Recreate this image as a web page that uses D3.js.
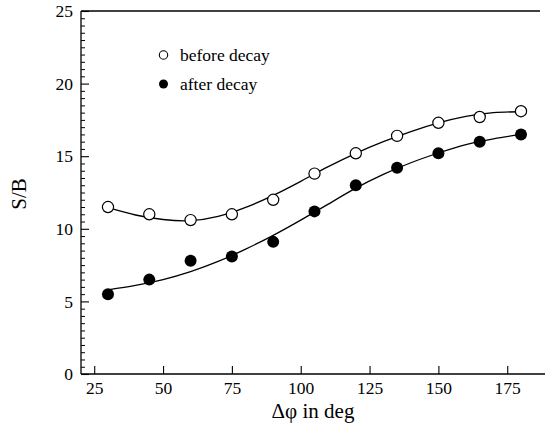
<!DOCTYPE html>
<html>
<head>
<meta charset="utf-8">
<script src="https://cdn.jsdelivr.net/npm/d3@7"></script>
<style>
  html, body { margin: 0; padding: 0; background: #fff; }
  svg { display: block; }
  text { font-family: "Liberation Serif", "DejaVu Serif", "Times New Roman", serif; fill: #000; }
</style>
</head>
<body>
<svg id="chart" width="545" height="423"></svg>
<script>
// ---- data ----
const angles = [30, 45, 60, 75, 90, 105, 120, 135, 150, 165, 180];
const beforeDecay = [11.5, 11.0, 10.6, 11.0, 12.0, 13.8, 15.2, 16.4, 17.3, 17.7, 18.1];
const afterDecay = [5.5, 6.5, 7.8, 8.1, 9.1, 11.2, 13.0, 14.2, 15.2, 16.0, 16.5];

// fitted curves
const fitAngles = [30, 40, 50, 60, 70, 80, 90, 100, 110, 120, 130, 140, 150, 160, 170, 180];
const beforeFit = [11.45, 10.95, 10.64, 10.56, 10.85, 11.47, 12.3, 13.27, 14.28, 15.2, 16.0, 16.7, 17.3, 17.75, 18.0, 18.06];
const afterFit = [5.8, 6.1, 6.5, 7.05, 7.75, 8.6, 9.55, 10.6, 11.7, 12.8, 13.75, 14.55, 15.22, 15.8, 16.2, 16.5];

const xTicks = [25, 50, 75, 100, 125, 150, 175];
const yTicks = [0, 5, 10, 15, 20, 25];
const seriesNames = ["before decay", "after decay"];

(function () {
// ---- layout ----
const svg = d3.select("#chart");
const mLeft = 81, mRight = 540, mTop = 11, mBottom = 374;
const serif = "Liberation Serif, DejaVu Serif, serif";

const x = d3.scaleLinear().domain([20.2, 186.9]).range([mLeft, mRight]);
const y = d3.scaleLinear().domain([0, 25]).range([mBottom, mTop]);

const axisColor = "#000";
const sw = 1.3;

// top border
svg.append("line").attr("x1", mLeft).attr("x2", mRight).attr("y1", mTop).attr("y2", mTop)
  .attr("stroke", axisColor).attr("stroke-width", sw);

// x axis (ticks inward)
const xAxis = d3.axisBottom(x).tickValues(xTicks).tickSizeInner(-8).tickSizeOuter(0).tickPadding(7.5);
const gx = svg.append("g").attr("transform", `translate(0,${mBottom})`).call(xAxis)
  .attr("font-family", serif);
gx.select(".domain").remove();
gx.append("line").attr("x1", mLeft).attr("x2", 545).attr("y1", 0).attr("y2", 0)
  .attr("stroke", axisColor).attr("stroke-width", sw);
gx.selectAll(".tick line").attr("stroke-width", 1.1);
gx.selectAll(".tick text").attr("font-size", 17.5).attr("font-family", serif);

// y axis minor ticks
const minor = d3.range(0, 25.01, 0.5).filter(v => Math.abs(v % 5) > 1e-6);
const gym = svg.append("g").attr("transform", `translate(${mLeft},0)`)
  .call(d3.axisLeft(y).tickValues(minor).tickSizeInner(-4).tickSizeOuter(0).tickFormat(""));
gym.select(".domain").remove();
gym.selectAll(".tick line").attr("stroke-width", 1);

// y axis major ticks
const yAxis = d3.axisLeft(y).tickValues(yTicks).tickSizeInner(-8).tickSizeOuter(0).tickPadding(8);
const gy = svg.append("g").attr("transform", `translate(${mLeft},0)`).call(yAxis)
  .attr("font-family", serif);
gy.select(".domain").remove();
gy.append("line").attr("x1", 0).attr("x2", 0).attr("y1", mTop).attr("y2", mBottom)
  .attr("stroke", axisColor).attr("stroke-width", sw);
gy.selectAll(".tick line").attr("stroke-width", 1.1);
gy.selectAll(".tick text").attr("font-size", 17.5).attr("font-family", serif);

// axis titles
svg.append("text").attr("x", 313).attr("y", 418).attr("text-anchor", "middle")
  .attr("font-size", 21).text("Δφ in deg");
svg.append("text").attr("transform", "translate(26,194) rotate(-90)").attr("text-anchor", "middle")
  .attr("font-size", 21).text("S/B");

// fitted curves
const line = d3.line().x(d => x(d[0])).y(d => y(d[1])).curve(d3.curveNatural);
[beforeFit, afterFit].forEach(arr => {
  svg.append("path").datum(fitAngles.map((a, i) => [a, arr[i]]))
    .attr("d", line).attr("fill", "none").attr("stroke", "#000").attr("stroke-width", 1.3);
});

// markers
svg.append("g").selectAll("circle").data(angles.map((a, i) => [a, beforeDecay[i]])).join("circle")
  .attr("cx", d => x(d[0])).attr("cy", d => y(d[1])).attr("r", 5.6)
  .attr("fill", "#fff").attr("stroke", "#000").attr("stroke-width", 1.2);
svg.append("g").selectAll("circle").data(angles.map((a, i) => [a, afterDecay[i]])).join("circle")
  .attr("cx", d => x(d[0])).attr("cy", d => y(d[1])).attr("r", 6)
  .attr("fill", "#000");

// legend
const legend = svg.append("g");
legend.append("circle").attr("cx", 163.5).attr("cy", 55).attr("r", 4.2)
  .attr("fill", "#fff").attr("stroke", "#000").attr("stroke-width", 1.1);
legend.append("text").attr("x", 180).attr("y", 61).attr("font-size", 17.5).text(seriesNames[0]);
legend.append("circle").attr("cx", 163.5).attr("cy", 84).attr("r", 4.5).attr("fill", "#000");
legend.append("text").attr("x", 180).attr("y", 90).attr("font-size", 17.5).text(seriesNames[1]);
})();
</script>
</body>
</html>
